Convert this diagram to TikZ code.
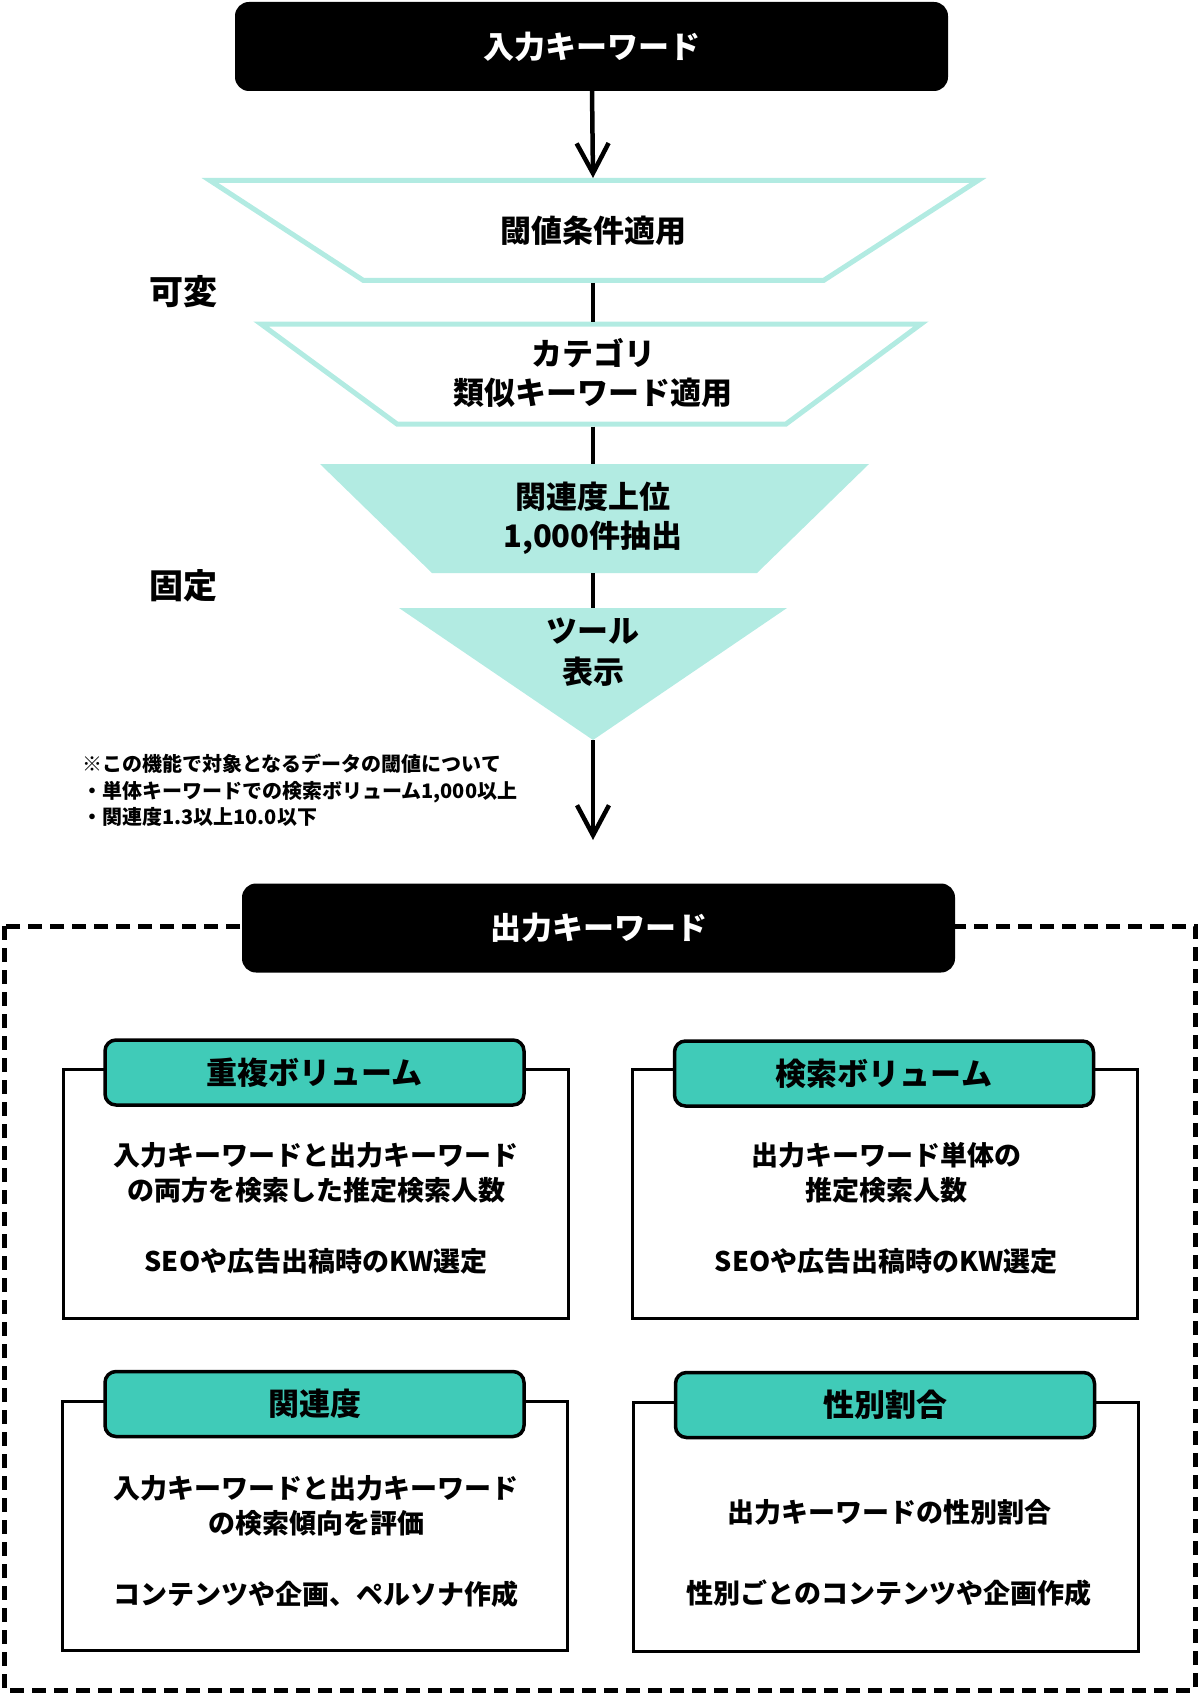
\documentclass[tikz,border=0pt]{standalone}
\usepackage{fontspec}
\setmainfont{Noto Sans CJK JP}
\usepackage{tikz}
\usetikzlibrary{
    arrows.meta
}
\definecolor{funnelteal}{RGB}{178,235,226}
\definecolor{headteal}{RGB}{64,203,184}

\begin{document}
\begin{tikzpicture}[x=1pt, y=-1pt,
    keybox/.style={fill=black, rounded corners=14pt, text=white, minimum width=713pt, minimum height=89pt, font=\fontsize{31}{39}\selectfont\bfseries},
    funnelline/.style={draw=funnelteal, line width=5pt},
    funneltext/.style={align=center, font=\fontsize{31}{39}\selectfont\bfseries},
    link/.style={line width=4.5pt},
    flowarrow/.style={line width=4.5pt, -{Straight Barb[length=30pt, width=32pt]}},
    card/.style={draw, line width=3pt, minimum width=505pt, minimum height=249pt, inner sep=0pt},
    cardhead/.style={draw, fill=headteal, line width=3.5pt, rounded corners=11pt, minimum width=419pt, minimum height=65pt, font=\fontsize{31}{39}\selectfont\bfseries},
    cardtext/.style={align=center, font=\fontsize{27}{35}\selectfont\bfseries},
    sidelabel/.style={font=\fontsize{34}{40}\selectfont\bfseries}
]
    \useasboundingbox (0,0) rectangle (1200,1693);

    % funnel
    \node[keybox] (inkw) at (591.5, 46.5) {入力キーワード};

    \draw[funnelline] (210, 180.5) -- (978, 180.5) -- (823.5, 280.5) -- (363.5, 280.5) -- cycle;
    \node[funneltext] (thresh) at (593, 231) {閾値条件適用};
    \coordinate (threshtop) at (593, 178);
    \coordinate (threshbot) at (593, 283);

    \draw[funnelline] (261, 324) -- (921, 324) -- (786, 424) -- (397, 424) -- cycle;
    \node[funneltext] (similar) at (593, 373) {カテゴリ\\類似キーワード適用};
    \coordinate (similartop) at (593, 321.5);
    \coordinate (similarbot) at (593, 426.5);

    \fill[funnelteal] (320, 464) -- (869, 464) -- (757, 573) -- (432, 573) -- cycle;
    \node[funneltext] (top1k) at (593, 518) {関連度上位\\1,000件抽出};
    \coordinate (top1ktop) at (593, 464);
    \coordinate (top1kbot) at (593, 573);

    \coordinate (showtop) at (593, 608);
    \coordinate (showtip) at (593, 740);
    \fill[funnelteal] (showtop) ++(-194, 0) -- ++(388, 0) -- (showtip) -- cycle;
    \node[funneltext, font=\fontsize{31}{41}\selectfont\bfseries] (show) at (593, 652) {ツール\\表示};
    \coordinate (outarrow) at (593, 840);

    \draw[flowarrow] (inkw) -- (threshtop);
    \draw[link] (threshbot) -- (similartop);
    \draw[link] (similarbot) -- (top1ktop);
    \draw[link] (top1kbot) -- (showtop);
    \draw[flowarrow] (showtip) -- (outarrow);

    \node[sidelabel] (vary) at (183, 292) {可変};
    \node[sidelabel] (fixed) at (183, 586) {固定};
    \node[anchor=west, align=left, inner sep=0pt, font=\fontsize{20}{26.5}\selectfont\bfseries] (cond) at (82, 790.5) {※この機能で対象となるデータの閾値について\\・単体キーワードでの検索ボリューム1,000以上\\・関連度1.3以上10.0以下};

    % output
    \draw[line width=5pt, dash pattern=on 14pt off 8pt] (4, 926) rectangle (1195, 1690);
    \node[keybox] (outkw) at (598.5, 928) {出力キーワード};

    \node[card] (dupcard) at (315.5, 1193.5) {};
    \node[cardhead] (duphead) at (314.5, 1072.5) {重複ボリューム};
    \node[cardtext] (duptext) at (316, 1208) {入力キーワードと出力キーワード\\の両方を検索した推定検索人数\\[36pt]SEOや広告出稿時のKW選定};

    \node[card] (volcard) at (884.5, 1193.5) {};
    \node[cardhead] (volhead) at (884, 1073.5) {検索ボリューム};
    \node[cardtext] (voltext) at (886, 1208) {出力キーワード単体の\\推定検索人数\\[36pt]SEOや広告出稿時のKW選定};

    \node[card] (relcard) at (315, 1525.5) {};
    \node[cardhead] (relhead) at (314.5, 1404) {関連度};
    \node[cardtext] (reltext) at (316, 1541) {入力キーワードと出力キーワード\\の検索傾向を評価\\[36pt]コンテンツや企画、ペルソナ作成};

    \node[card] (gendercard) at (886, 1527) {};
    \node[cardhead] (genderhead) at (885, 1405) {性別割合};
    \node[cardtext] (gendertext) at (889, 1552.5) {出力キーワードの性別割合\\[46pt]性別ごとのコンテンツや企画作成};
\end{tikzpicture}
\end{document}
